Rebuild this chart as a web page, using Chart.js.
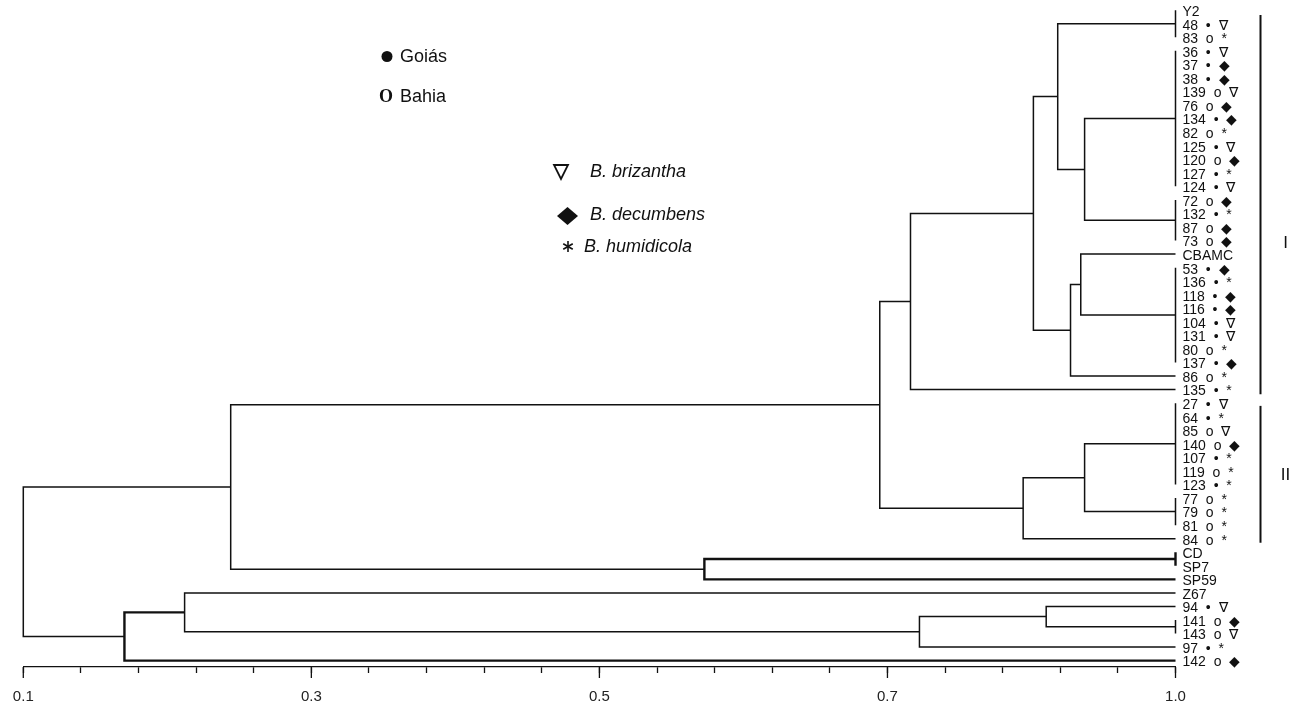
<!DOCTYPE html>
<html>
<head>
<meta charset="utf-8">
<script src="https://cdn.jsdelivr.net/npm/chart.js@4.4.1/dist/chart.umd.min.js"></script>
<style>
  html, body { margin: 0; padding: 0; background: #fff; }
</style>
</head>
<body>
<canvas id="dendro" width="1302" height="706"></canvas>
<script>
// leaves, top to bottom
const leafIds = ['Y2','48','83','36','37','38','139','76','134','82','125','120','127','124','72','132','87','73','CBAMC',
  '53','136','118','116','104','131','80','137','86','135','27','64','85','140','107','119','123','77','79','81','84',
  'CD','SP7','SP59','Z67','94','141','143','97','142'];
// G = Goiás, B = Bahia
const leafOrigin = ['','G','B','G','G','G','B','B','G','B','G','B','G','G','B','G','B','B','',
  'G','G','G','G','G','G','B','G','B','G','G','G','B','B','G','B','G','B','B','B','B',
  '','','','','G','B','B','G','B'];
// b = B. brizantha, d = B. decumbens, h = B. humidicola
const leafSpecies = ['','b','h','b','d','d','b','d','d','h','b','d','h','b','d','h','d','d','',
  'd','h','d','d','b','b','h','d','h','h','b','h','b','d','h','h','h','h','h','h','h',
  '','','','','b','d','b','h','d'];

const leafHeight = 1.0;

// joins: children are leaf numbers (1-based) or other join names
const nodeNames = ['g1','g2','g3','nB','nA','g4','nCB','n86','nC','nD','g5','g6','nE','nF','nD2',
  'g7','nQ','nP','g8','nU','nT','nS','nR','root'];
const nodeHeights = [1.0, 1.0, 1.0, 0.929, 0.908, 1.0, 0.926, 0.918, 0.889, 0.793, 1.0, 1.0, 0.929, 0.881, 0.769,
  1.0, 0.632, 0.262, 1.0, 0.899, 0.800, 0.226, 0.179, 0.100];
const nodeChildren = [
  [1, 2, 3],
  [4, 5, 6, 7, 8, 9, 10, 11, 12, 13, 14],
  [15, 16, 17, 18],
  ['g2', 'g3'],
  ['g1', 'nB'],
  [20, 21, 22, 23, 24, 25, 26, 27],
  [19, 'g4'],
  ['nCB', 28],
  ['nA', 'n86'],
  ['nC', 29],
  [30, 31, 32, 33, 34, 35, 36],
  [37, 38, 39],
  ['g5', 'g6'],
  ['nE', 40],
  ['nD', 'nF'],
  [41, 42],
  ['g7', 43],
  ['nD2', 'nQ'],
  [46, 47],
  [45, 'g8'],
  ['nU', 48],
  [44, 'nT'],
  ['nS', 49],
  ['nP', 'nR']
];

// axis: labels as printed on the figure
const majorTicks = [0.1, 0.325, 0.55, 0.775, 1.0];
const majorLabels = ['0.1', '0.3', '0.5', '0.7', '1.0'];
const minorStep = 0.045;

// groups marked on the right
const clusterNames = ['I', 'II'];
const clusterFrom = [1.35, 30.2];
const clusterTo = [29.35, 40.3];
const clusterLabelAt = [18.2, 35.3];

const FONT = '"Liberation Sans", Arial, Helvetica, sans-serif';
const heavyNodes = ['g7', 'nQ', 'nR'];

const originMark = { G: '\u2022', B: 'o' };
const speciesMark = { b: '\u2207', d: '\u25C6', h: '*' };

const leafText = leafIds.map((id, i) => {
  if (!leafOrigin[i]) return id;
  return id + '  ' + originMark[leafOrigin[i]] + '  ' + speciesMark[leafSpecies[i]];
});

const nodeIndex = {};
nodeNames.forEach((n, i) => { nodeIndex[n] = i; });

function childPos(c) {
  if (typeof c === 'number') return { x: leafHeight, y: c };
  const i = nodeIndex[c];
  const ys = nodeChildren[i].map(k => childPos(k).y);
  return { x: nodeHeights[i], y: (Math.min(...ys) + Math.max(...ys)) / 2 };
}

const datasets = nodeNames.map((name, i) => {
  const h = nodeHeights[i];
  const kids = nodeChildren[i].map(childPos);
  const first = kids[0];
  const last = kids[kids.length - 1];
  return {
    label: name,
    data: [
      { x: first.x, y: first.y },
      { x: h, y: first.y },
      { x: h, y: last.y },
      { x: last.x, y: last.y }
    ],
    showLine: true,
    borderColor: '#111',
    borderWidth: heavyNodes.includes(name) ? 2.4 : 1.5,
    borderJoinStyle: 'miter',
    pointRadius: 0,
    pointHoverRadius: 0,
    clip: false
  };
});

const minorTicks = [];
for (let v = majorTicks[0]; v <= majorTicks[majorTicks.length - 1] + 1e-9; v += minorStep) {
  minorTicks.push(Math.round(v * 10000) / 10000);
}

// legend, cluster bars and long ticks
const decor = {
  id: 'decor',
  afterDraw(chart) {
    const { ctx, chartArea } = chart;
    const xs = chart.scales.x;
    const ys = chart.scales.y;
    ctx.save();
    ctx.strokeStyle = '#111';
    ctx.fillStyle = '#111';

    ctx.lineWidth = 1.3;
    majorTicks.forEach(v => {
      const px = xs.getPixelForValue(v);
      ctx.beginPath();
      ctx.moveTo(px, chartArea.bottom);
      ctx.lineTo(px, chartArea.bottom + 11);
      ctx.stroke();
    });

    // cluster bars
    const barX = chartArea.right + 85;
    ctx.lineWidth = 2;
    ctx.font = '17px ' + FONT;
    ctx.textAlign = 'center';
    ctx.textBaseline = 'middle';
    clusterNames.forEach((nm, i) => {
      ctx.beginPath();
      ctx.moveTo(barX, ys.getPixelForValue(clusterFrom[i]));
      ctx.lineTo(barX, ys.getPixelForValue(clusterTo[i]));
      ctx.stroke();
      ctx.fillText(nm, barX + 25, ys.getPixelForValue(clusterLabelAt[i]));
    });

    // legend
    ctx.textAlign = 'left';
    ctx.font = '18px ' + FONT;
    ctx.beginPath();
    ctx.arc(387, 56.5, 5.5, 0, Math.PI * 2);
    ctx.fill();
    ctx.fillText('Goiás', 400, 57);

    ctx.font = 'bold 18px "Liberation Serif", "Times New Roman", serif';
    ctx.textAlign = 'center';
    ctx.fillText('O', 386, 97);
    ctx.textAlign = 'left';
    ctx.font = '18px ' + FONT;
    ctx.fillText('Bahia', 400, 97);

    ctx.lineWidth = 1.8;
    ctx.beginPath();
    ctx.moveTo(554, 165);
    ctx.lineTo(568, 165);
    ctx.lineTo(561, 179);
    ctx.closePath();
    ctx.stroke();

    ctx.beginPath();
    ctx.moveTo(567.5, 207);
    ctx.lineTo(578, 216);
    ctx.lineTo(567.5, 225);
    ctx.lineTo(557, 216);
    ctx.closePath();
    ctx.fill();

    ctx.lineWidth = 1.6;
    for (let k = 0; k < 3; k++) {
      const a = Math.PI / 2 + k * Math.PI / 3;
      ctx.beginPath();
      ctx.moveTo(568 + 5.5 * Math.cos(a), 246.5 + 5.5 * Math.sin(a));
      ctx.lineTo(568 - 5.5 * Math.cos(a), 246.5 - 5.5 * Math.sin(a));
      ctx.stroke();
    }

    ctx.font = 'italic 18px ' + FONT;
    ctx.fillText('B. brizantha', 590, 172);
    ctx.fillText('B. decumbens', 590, 215);
    ctx.fillText('B. humidicola', 584, 247);
    ctx.restore();
  }
};

new Chart(document.getElementById('dendro'), {
  type: 'scatter',
  data: { datasets: datasets },
  options: {
    responsive: false,
    animation: false,
    events: [],
    layout: { padding: { left: 23.3, top: 0, right: 0, bottom: 0 } },
    plugins: {
      legend: { display: false },
      tooltip: { enabled: false }
    },
    scales: {
      x: {
        type: 'linear',
        position: 'bottom',
        min: 0.1,
        max: 1.0,
        afterBuildTicks: s => { s.ticks = minorTicks.map(v => ({ value: v })); },
        afterFit: s => { s.height = 39; s.paddingLeft = 0; s.paddingRight = 0; },
        ticks: {
          autoSkip: false,
          maxRotation: 0,
          padding: 15,
          color: '#222',
          font: { family: FONT, size: 15 },
          callback: v => {
            const k = majorTicks.findIndex(m => Math.abs(m - v) < 1e-6);
            return k >= 0 ? majorLabels[k] : '';
          }
        },
        grid: { drawOnChartArea: false, tickLength: 6, color: '#111', tickWidth: 1.3 },
        border: { color: '#111', width: 1.3 }
      },
      y: {
        type: 'linear',
        position: 'right',
        reverse: true,
        min: 0.247,
        max: 49.47,
        afterBuildTicks: s => { s.ticks = leafIds.map((_, i) => ({ value: i + 1 })); },
        afterFit: s => { s.width = 126.5; s.paddingTop = 0; s.paddingBottom = 0; },
        ticks: {
          autoSkip: false,
          padding: 7,
          labelOffset: 2,
          color: '#111',
          font: { family: FONT, size: 14 },
          callback: v => leafText[v - 1]
        },
        grid: { display: false, drawTicks: false },
        border: { display: false }
      }
    }
  },
  plugins: [decor]
});
</script>
</body>
</html>
